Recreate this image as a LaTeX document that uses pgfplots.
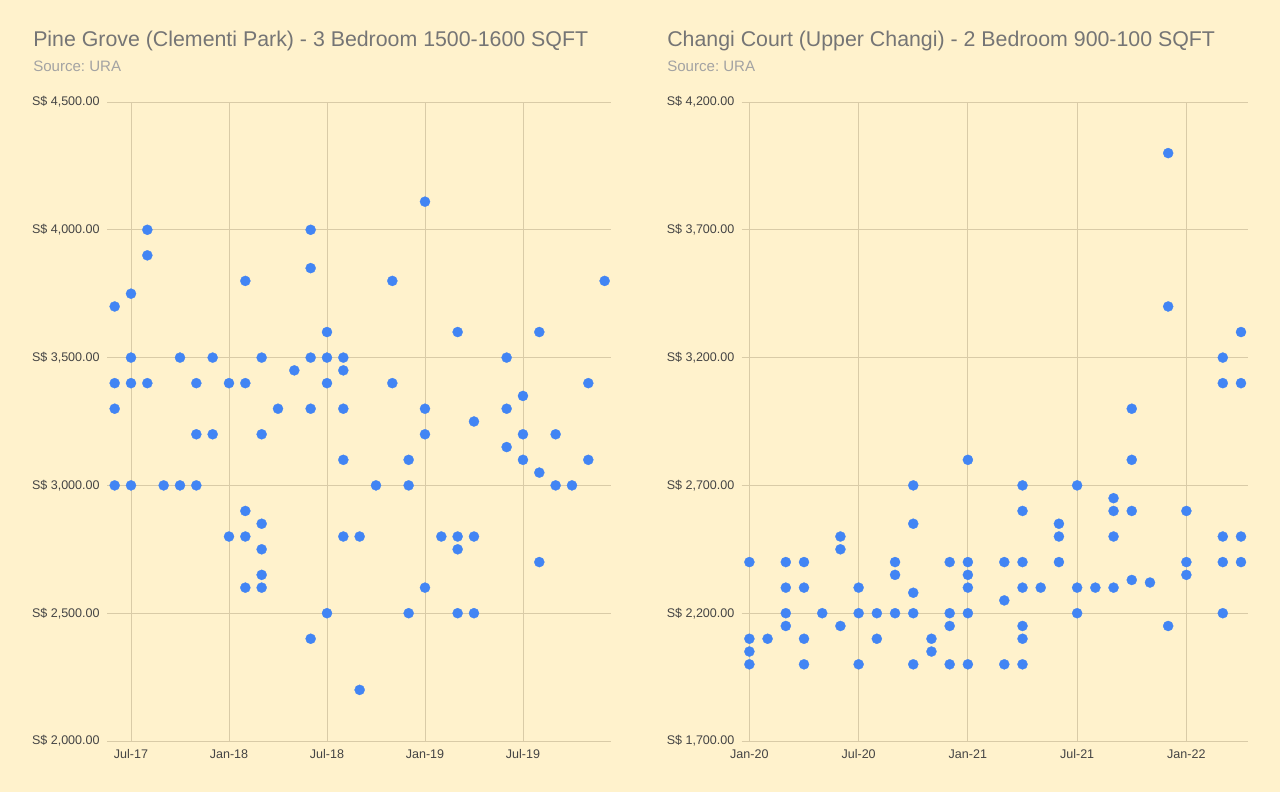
\documentclass[border=0pt]{standalone}
\usepackage{pgfplots}
\pgfplotsset{compat=1.18}
\usepackage{pgfplotstable}
\usepackage{fontspec}
\setmainfont{Liberation Sans}
\definecolor{bg}{RGB}{255,242,204}
\definecolor{gridc}{RGB}{217,203,167}
\definecolor{dotc}{HTML}{4285F4}
\definecolor{titlec}{HTML}{757575}
\definecolor{srcc}{HTML}{A3A3A3}
\definecolor{tickc}{HTML}{444444}

\pgfplotstableread{
m v
-1 3700
-1 3400
-1 3300
-1 3000
0 3750
0 3500
0 3400
0 3000
1 4000
1 3900
1 3400
2 3000
3 3500
3 3000
4 3400
4 3200
4 3000
5 3500
5 3200
6 3400
6 2800
7 3800
7 3400
7 2900
7 2800
7 2600
8 3500
8 3200
8 2850
8 2750
8 2650
8 2600
9 3300
10 3450
11 4000
11 3850
11 3500
11 3300
11 2400
12 3600
12 3500
12 3400
12 2500
13 3500
13 3450
13 3300
13 3100
13 2800
14 2800
14 2200
15 3000
16 3800
16 3400
17 3100
17 3000
17 2500
18 4110
18 3300
18 3200
18 2600
19 2800
20 3600
20 2800
20 2750
20 2500
21 3250
21 2800
21 2500
23 3500
23 3300
23 3150
24 3350
24 3200
24 3100
25 3600
25 3050
25 2700
26 3200
26 3000
27 3000
28 3400
28 3100
29 3800
}\pinegrove

\pgfplotstableread{
m v
0 2400
0 2100
0 2050
0 2000
1 2100
2 2400
2 2300
2 2200
2 2150
3 2400
3 2300
3 2100
3 2000
4 2200
5 2500
5 2450
5 2150
6 2300
6 2200
6 2000
7 2200
7 2100
8 2400
8 2350
8 2200
9 2700
9 2550
9 2280
9 2200
9 2000
10 2100
10 2050
11 2400
11 2200
11 2150
11 2000
12 2800
12 2400
12 2350
12 2300
12 2200
12 2000
14 2400
14 2250
14 2000
15 2700
15 2600
15 2400
15 2300
15 2150
15 2100
15 2000
16 2300
17 2550
17 2500
17 2400
18 2700
18 2300
18 2200
19 2300
20 2650
20 2600
20 2500
20 2300
21 3000
21 2800
21 2600
21 2330
22 2320
23 4000
23 3400
23 2150
24 2600
24 2400
24 2350
26 3200
26 3100
26 2500
26 2400
26 2200
27 3300
27 3100
27 2500
27 2400
}\changi

\pgfplotsset{
  myscatter/.style={
    scale only axis,
    width=378pt, height=479.25pt,
    anchor=south west,
    axis line style={draw=none},
    major tick length=0pt,
    xmajorgrids, ymajorgrids,
    grid style={gridc, line width=0.7pt},
    tick label style={font=\fontsize{9.4}{11}\selectfont, text=tickc},
    yticklabel style={xshift=-2pt},
    xticklabel style={yshift=-3pt},
    clip=false,
  },
  dots/.style={only marks, color=dotc, mark=*, mark size=3.8pt, mark options={solid, fill=dotc, draw=dotc, line width=0.2pt}},
}

\begin{document}
\begin{tikzpicture}
\fill[bg] (0,0) rectangle (960pt,594pt);

\node[anchor=base west, text=titlec, inner sep=0pt, font=\fontsize{16}{18}\selectfont] at (24.75pt,558.75pt) {Pine Grove (Clementi Park) - 3 Bedroom 1500-1600 SQFT};
\node[anchor=base west, text=srcc, inner sep=0pt, font=\fontsize{11.3}{13}\selectfont] at (24.75pt,540pt) {Source:\ URA};

\node[anchor=base west, text=titlec, inner sep=0pt, font=\fontsize{16}{18}\selectfont] at (500.25pt,558.75pt) {Changi Court (Upper Changi) - 2 Bedroom 900-100 SQFT};
\node[anchor=base west, text=srcc, inner sep=0pt, font=\fontsize{11.3}{13}\selectfont] at (500.25pt,540pt) {Source:\ URA};

\begin{axis}[myscatter,
  at={(80.25pt,38.25pt)},
  xmin=-1.47, xmax=29.39,
  ymin=2000, ymax=4500,
  xtick={0,6,12,18,24},
  xticklabels={Jul-17,Jan-18,Jul-18,Jan-19,Jul-19},
  ytick={2000,2500,3000,3500,4000,4500},
  yticklabels={{S\$ 2,000.00},{S\$ 2,500.00},{S\$ 3,000.00},{S\$ 3,500.00},{S\$ 4,000.00},{S\$ 4,500.00}},
]
\addplot[dots] table[x=m, y=v] {\pinegrove};
\end{axis}

\begin{axis}[myscatter,
  at={(556.3pt,38.25pt)},
  width=379.5pt,
  xmin=-0.42, xmax=27.37,
  ymin=1700, ymax=4200,
  xtick={0,6,12,18,24},
  xticklabels={Jan-20,Jul-20,Jan-21,Jul-21,Jan-22},
  ytick={1700,2200,2700,3200,3700,4200},
  yticklabels={{S\$ 1,700.00},{S\$ 2,200.00},{S\$ 2,700.00},{S\$ 3,200.00},{S\$ 3,700.00},{S\$ 4,200.00}},
]
\addplot[dots] table[x=m, y=v] {\changi};
\end{axis}
\end{tikzpicture}
\end{document}
